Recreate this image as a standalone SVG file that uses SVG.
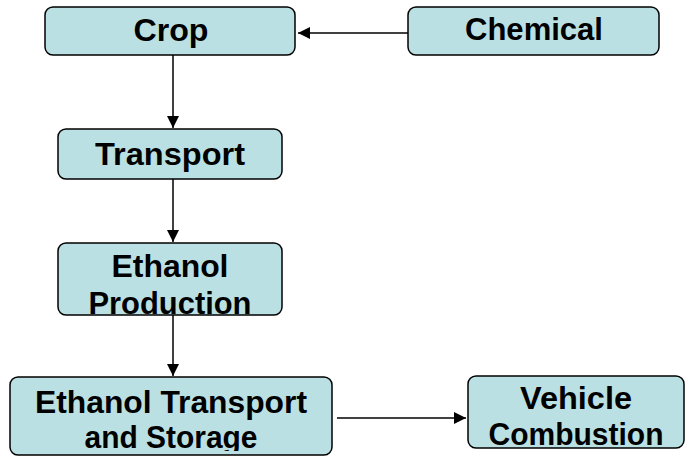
<svg xmlns="http://www.w3.org/2000/svg" width="685" height="456" viewBox="0 0 685 456">
<style>
.box{fill:#bbe0e3;stroke:#000;stroke-width:1.5}
.t{font-family:"Liberation Sans",Arial,sans-serif;font-weight:bold;font-size:31px;fill:#000;text-anchor:middle}
.c{stroke:#000;stroke-width:1.5;fill:none}
</style>
<defs>
<marker id="ah" viewBox="0 0 12 12" refX="12" refY="6" markerWidth="12" markerHeight="12" markerUnits="userSpaceOnUse" orient="auto">
<path d="M0,0 L12,6 L0,12 Z" fill="#000"/>
</marker>
<clipPath id="cp1"><rect x="58" y="243" width="224" height="71"/></clipPath>
<clipPath id="cp2"><rect x="10" y="377" width="322" height="74"/></clipPath>
<clipPath id="cp3"><rect x="468" y="376" width="216" height="71"/></clipPath>
</defs>
<g id="connectors">
<line class="c" x1="408" y1="33" x2="298" y2="33" marker-end="url(#ah)"/>
<line class="c" x1="173" y1="55" x2="173" y2="128" marker-end="url(#ah)"/>
<line class="c" x1="173" y1="179" x2="173" y2="242" marker-end="url(#ah)"/>
<line class="c" x1="173" y1="315" x2="173" y2="376" marker-end="url(#ah)"/>
<line class="c" x1="337" y1="418" x2="466" y2="418" marker-end="url(#ah)"/>
</g>
<g id="crop">
<rect class="box" x="45" y="7" width="250" height="48" rx="8"/>
<text class="t" x="171" y="41" textLength="75" lengthAdjust="spacingAndGlyphs">Crop</text>
</g>
<g id="chemical">
<rect class="box" x="408" y="7" width="251" height="48" rx="8"/>
<text class="t" x="534" y="40" textLength="138" lengthAdjust="spacingAndGlyphs">Chemical</text>
</g>
<g id="transport">
<rect class="box" x="58" y="129" width="224" height="50" rx="8"/>
<text class="t" x="170" y="165" textLength="150" lengthAdjust="spacingAndGlyphs">Transport</text>
</g>
<g id="ethanol-production">
<rect class="box" x="58" y="243" width="224" height="72" rx="8"/>
<g clip-path="url(#cp1)">
<text class="t" x="170" y="277" textLength="117" lengthAdjust="spacingAndGlyphs">Ethanol</text>
<text class="t" x="170" y="314" textLength="163" lengthAdjust="spacingAndGlyphs">Production</text>
</g>
</g>
<g id="ethanol-transport-storage">
<rect class="box" x="10" y="377" width="322" height="78" rx="8"/>
<g clip-path="url(#cp2)">
<text class="t" x="171" y="413" textLength="272" lengthAdjust="spacingAndGlyphs">Ethanol Transport</text>
<text class="t" x="171" y="448" textLength="173" lengthAdjust="spacingAndGlyphs">and Storage</text>
</g>
</g>
<g id="vehicle-combustion">
<rect class="box" x="468" y="376" width="216" height="72" rx="8"/>
<g clip-path="url(#cp3)">
<text class="t" x="576" y="409" textLength="112" lengthAdjust="spacingAndGlyphs">Vehicle</text>
<text class="t" x="576" y="445" textLength="175" lengthAdjust="spacingAndGlyphs">Combustion</text>
</g>
</g>
</svg>
